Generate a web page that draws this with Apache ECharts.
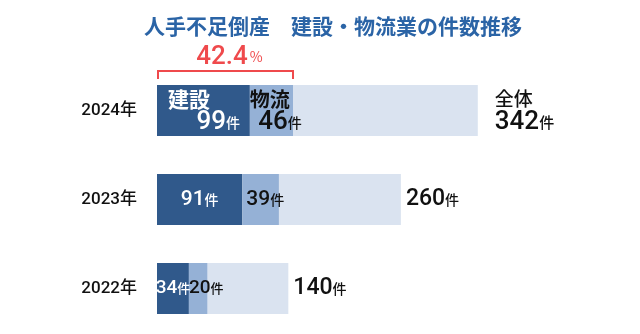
<!DOCTYPE html>
<html><head><meta charset="utf-8">
<script src="https://cdn.jsdelivr.net/npm/echarts@6/dist/echarts.min.js"></script>
<style>html,body{margin:0;padding:0;background:#fff}#c{width:640px;height:334px}</style>
</head><body><div id="c"></div>
<script>
var years = ['2024年', '2023年', '2022年'];
var construction = [99, 91, 34];
var logistics = [46, 39, 20];
var totals = [342, 260, 140];
var titleText = '人手不足倒産　建設・物流業の件数推移';

var others = totals.map(function (t, i) { return t - construction[i] - logistics[i]; });
var FONT = '"Noto Sans CJK JP", "Noto Sans", sans-serif';
var NUM = 'Roboto, "Noto Sans CJK JP", sans-serif';
var C_DARK = '#30598b', C_MID = '#95b1d6', C_LIGHT = '#dae3f0', RED = '#ef4a4c';

function numRich(fs, us, color, extra) {
  var n = { fontSize: fs, color: color, fontFamily: NUM, fontWeight: 500 };
  var u = { fontSize: us, color: color, fontFamily: FONT, fontWeight: 500 };
  if (extra) { for (var k in extra) { n[k] = extra[k]; u[k] = extra[k]; } }
  return { n: n, u: u };
}

var cData = construction.map(function (v, i) {
  var d = { value: v };
  if (i === 0) {
    var r = numRich(26, 14, '#fff', { lineHeight: 22, align: 'right' });
    r.t = { fontSize: 21, fontWeight: 'bold', color: '#fff', lineHeight: 24, align: 'left', fontFamily: FONT };
    d.label = { position: 'insideLeft', distance: 11, width: 72,
      formatter: '{t|建設}\n{n|' + v + '}{u|件}', rich: r };
  } else {
    d.label = { position: 'inside', formatter: '{n|' + v + '}{u|件}',
      rich: numRich(i === 1 ? 21 : 19, i === 1 ? 14 : 13, '#fff') };
  }
  return d;
});
var lData = logistics.map(function (v, i) {
  var d = { value: v };
  if (i === 0) {
    var r = numRich(26, 14, '#111', { lineHeight: 22, align: 'right' });
    r.t = { fontSize: 20, fontWeight: 'bold', color: '#111', lineHeight: 24, align: 'left', fontFamily: FONT };
    d.label = { position: 'insideLeft', distance: 0, width: 52,
      formatter: '{t|物流}\n{n|' + v + '}{u|件}', rich: r };
  } else {
    d.label = { position: 'insideLeft', distance: i === 1 ? 4 : 0, formatter: '{n|' + v + '}{u|件}',
      rich: numRich(i === 1 ? 21 : 19, i === 1 ? 14 : 13, '#111') };
  }
  return d;
});
var oData = others.map(function (v, i) {
  var d = { value: v };
  if (i === 0) {
    var r = numRich(26, 15, '#111', { lineHeight: 24, align: 'left' });
    r.t = { fontSize: 19, fontWeight: 500, color: '#111', lineHeight: 24, align: 'left', fontFamily: FONT };
    d.label = { position: 'right', distance: 17, width: 60,
      formatter: '{t|全体}\n{n|' + totals[i] + '}{u|件}', rich: r };
  } else {
    d.label = { position: 'right', distance: 5, formatter: '{n|' + totals[i] + '}{u|件}',
      rich: numRich(23, 14, '#111') };
  }
  return d;
});

var chart = echarts.init(document.getElementById('c'), null, { renderer: 'canvas' });
chart.setOption({
  animation: false,
  title: { text: titleText, left: 139, top: 11,
    textStyle: { fontSize: 21, fontWeight: 'bold', color: '#2b64a6', fontFamily: FONT } },
  grid: { left: 157, right: 14, top: 66, bottom: 1 },
  xAxis: { type: 'value', min: 0, max: 500, show: false },
  yAxis: { type: 'category', data: years, inverse: true,
    axisLine: { show: false }, axisTick: { show: false },
    axisLabel: { margin: 20, fontSize: 17, fontWeight: 500, color: '#111', fontFamily: NUM } },
  series: [
    { type: 'bar', stack: 'a', data: cData, barWidth: 51, itemStyle: { color: C_DARK }, label: { show: true } },
    { type: 'bar', stack: 'a', data: lData, barWidth: 51, itemStyle: { color: C_MID }, label: { show: true } },
    { type: 'bar', stack: 'a', data: oData, barWidth: 51, itemStyle: { color: C_LIGHT }, label: { show: true } }
  ]
});

// Share annotation over the 2024 bar, computed from data
var share = (construction[0] + logistics[0]) / totals[0] * 100;
var p0 = chart.convertToPixel({ gridIndex: 0 }, [0, years[0]]);
var p1 = chart.convertToPixel({ gridIndex: 0 }, [construction[0] + logistics[0], years[0]]);
var x0 = p0[0] + 1, x1 = p1[0], yTop = p0[1] - 25.5 - 14;
chart.setOption({
  graphic: [
    { type: 'polyline', shape: { points: [[x0, yTop + 8], [x0, yTop], [x1, yTop], [x1, yTop + 8]] },
      style: { stroke: RED, lineWidth: 2, fill: null } },
    { type: 'text', x: (x0 + x1) / 2 + 4, y: yTop,
      style: { text: '{n|' + share.toFixed(1) + '}{u|%}', align: 'center', verticalAlign: 'bottom',
        rich: { n: { fontSize: 26, fontWeight: 500, fill: RED, fontFamily: NUM },
                u: { fontSize: 14, fill: RED, fontFamily: FONT, padding: [0, 0, 2, 2] } } } }
  ]
});
</script></body></html>
